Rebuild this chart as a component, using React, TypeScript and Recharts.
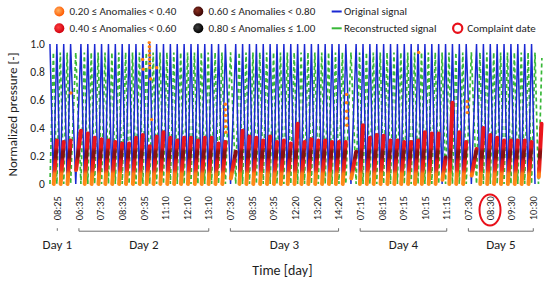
import React from 'react';
import { ComposedChart, Line, Scatter, XAxis, YAxis } from 'recharts';

// per pressure cycle: [base, peak] of the anomaly-scored segment, read per day
const day1Strokes = [[0, 0.31], [0, 0.3], [0, 0.31]];
const day2Strokes = [
  [0.1, 0.38], [0, 0.36], [0, 0.33], [0, 0.32], [0, 0.31], [0, 0.3], [0, 0.29], [0, 0.29],
  [0, 0.33], [0, 0.35], [0, 0.27], [0, 0.34], [0, 0.37], [0, 0.33], [0, 0.31], [0, 0.33],
  [0, 0.33], [0, 0.31], [0, 0.33], [0, 0.33], [0, 0.29], [0, 0.3],
];
const day3Strokes = [
  [0.04, 0.23], [0, 0.38], [0, 0.34], [0, 0.33], [0, 0.31], [0, 0.34], [0, 0.3], [0, 0.31],
  [0, 0.29], [0, 0.43], [0, 0.3], [0, 0.32], [0, 0.31], [0, 0.31], [0, 0.3], [0, 0.3], [0, 0.3],
];
const day4Strokes = [
  [0.04, 0.23], [0, 0.42], [0, 0.33], [0, 0.35], [0, 0.345], [0, 0.31], [0, 0.31], [0, 0.3],
  [0, 0.3], [0, 0.31], [0, 0.37], [0, 0.36], [0, 0.36], [0.03, 0.19], [0, 0.58], [0, 0.37], [0, 0.3],
];
const day5Strokes = [[0.06, 0.25], [0, 0.4], [0, 0.35], [0, 0.33], [0, 0.31], [0, 0.31], [0, 0.31], [0, 0.31], [0, 0.3]];
const tailStroke = [0.05, 0.43];

const ORIG_PEAK = 1.0;
const RECON_PEAK = 0.94;
const RECON_TAIL = 0.9;

// isolated orange points (cycle units, value)
const outlierX = [3.05, 13.47, 13.56, 14.43, 14.45, 14.46, 14.47, 14.48, 14.5, 14.52, 14.64, 14.78, 15.51,
  25.5, 25.5, 25.52, 25.55, 25.55, 25.57, 43.1, 43.1, 43.12, 43.14, 43.15, 53.59, 60.65, 60.66, 60.66];
const outlierY = [0.65, 0.89, 0.82, 1.01, 0.98, 0.95, 0.92, 0.89, 0.86, 0.83, 0.75, 0.46, 0.83,
  0.57, 0.53, 0.49, 0.45, 0.41, 0.37, 0.64, 0.58, 0.52, 0.47, 0.42, 0.94, 0.59, 0.55, 0.51];

const timeLabels = ['08:25', '06:35', '07:35', '08:35', '09:35', '11:10', '12:10', '13:10',
  '07:35', '08:35', '09:35', '12:20', '13:20', '14:20',
  '07:15', '08:15', '09:15', '10:15', '11:15',
  '07:30', '08:30', '09:30', '10:30'];
const dayNames = ['Day 1', 'Day 2', 'Day 3', 'Day 4', 'Day 5'];
const labelsPerDay = [1, 7, 6, 5, 4];
const complaintIndex = 20;

const FONT = 'Carlito, Calibri, Lato, "Noto Sans", sans-serif';
const TXT = '#1e1e1e';
const BLUE = '#1a28d2';
const GREEN = '#38b838';

const W = 550;
const H = 283;
const M_TOP = 41.2;
const M_RIGHT = 3.3;
const Y_W = 47.9;
const PLOT_H = 148.4;
const LBL_H = 38;
const PLOT_W = W - Y_W - M_RIGHT;
const X_DOMAIN: [number, number] = [-0.3, 72.2];
const LABEL_DOMAIN: [number, number] = [-0.4345, 22.62];
const LABEL_PX = PLOT_W / (LABEL_DOMAIN[1] - LABEL_DOMAIN[0]);

// build series tables
type Pt = { x: number; v: number | null };
const original: Pt[] = [{ x: 0, v: ORIG_PEAK }];
const recon: Pt[] = [{ x: 0, v: 0 }];
const strokes: Pt[] = [];
let peak = 0;
[day1Strokes, day2Strokes, day3Strokes, day4Strokes, day5Strokes].forEach((day, d) => {
  day.forEach(([base, top], i) => {
    const step = d > 0 && i === 0 ? 1.5 : 1;
    const trough = peak + step / 2;
    const next = peak + step;
    original.push({ x: trough, v: 0 }, { x: next, v: ORIG_PEAK });
    recon.push({ x: trough, v: RECON_PEAK }, { x: next, v: 0 });
    strokes.push({ x: trough + 0.05, v: base }, { x: next, v: top }, { x: next + 0.01, v: null });
    peak = next;
  });
});
original.push({ x: peak + 0.5, v: 0 });
recon.push({ x: peak + 0.5, v: RECON_PEAK }, { x: peak + 1, v: 0 }, { x: peak + 1.5, v: RECON_TAIL });
strokes.push({ x: peak + 1.05, v: tailStroke[0] }, { x: peak + 1.45, v: tailStroke[1] });

const outliers = outlierX.map((x, i) => ({ x, v: outlierY[i] }));

const strokeVals = strokes.filter((p) => p.v !== null).map((p) => p.v as number);
const sTop = Math.max(...strokeVals);
const sBot = Math.min(...strokeVals);
const off = (v: number) => (sTop - v) / (sTop - sBot);

const dayStarts = labelsPerDay.map((_, d) => labelsPerDay.slice(0, d).reduce((a, b) => a + b, 0));
const dayCenters = labelsPerDay.map((n, d) => dayStarts[d] + (n - 1) / 2);
// empty rows so the label axes get a domain
const labelRows = timeLabels.map((_, i) => ({ x: i, v: null }));
const dayRows = dayCenters.map((x) => ({ x, v: null }));

function TimeTick(props: any) {
  const { x, y, payload } = props;
  const i = payload.value;
  return (
    <g>
      <text transform={`translate(${x},${y + 6.5}) rotate(-90)`} textAnchor="end" dy="0.35em"
        fontSize={10.5} fontFamily={FONT} fill={TXT}>{timeLabels[i]}</text>
      {i === complaintIndex && (
        <ellipse cx={x} cy={y + 20.4} rx={10.5} ry={15.5} fill="none" stroke="#e8101a" strokeWidth={2} />
      )}
    </g>
  );
}

function DayTick(props: any) {
  const { x, y, payload } = props;
  const d = dayCenters.indexOf(payload.value);
  if (d < 0) return null;
  const half = ((labelsPerDay[d] - 1) / 2) * LABEL_PX;
  return (
    <g>
      {half > 0 ? (
        <path d={`M${x - half},${y + 0.6} V${y + 3.6} H${x + half} V${y + 0.6}`} fill="none" stroke="#707070" strokeWidth={1} />
      ) : (
        <line x1={x} x2={x} y1={y + 0.6} y2={y + 3.2} stroke="#707070" strokeWidth={1} />
      )}
      <text x={x} y={y + 21.5} textAnchor="middle" fontSize={13} fontFamily={FONT} fill={TXT}>{dayNames[d]}</text>
    </g>
  );
}

function Legend() {
  const dot = (cx: number, cy: number, id: string) => <circle cx={cx} cy={cy} r={5} fill={`url(#${id})`} />;
  const t = (x: number, y: number, s: string) => (
    <text x={x} y={y} dy="0.35em" fontSize={11} fontFamily={FONT} fill={TXT}>{s}</text>
  );
  return (
    <svg width={W} height={40} style={{ position: 'absolute', left: 0, top: 0 }}>
      <defs>
        <radialGradient id="lgO" cx="0.4" cy="0.4" r="0.6"><stop offset="0" stopColor="#ffb060" /><stop offset="1" stopColor="#ff5a00" /></radialGradient>
        <radialGradient id="lgR" cx="0.4" cy="0.4" r="0.6"><stop offset="0" stopColor="#ff4040" /><stop offset="1" stopColor="#d0000e" /></radialGradient>
        <radialGradient id="lgD" cx="0.4" cy="0.4" r="0.6"><stop offset="0" stopColor="#8a3020" /><stop offset="1" stopColor="#3a0505" /></radialGradient>
        <radialGradient id="lgK" cx="0.4" cy="0.4" r="0.6"><stop offset="0" stopColor="#404040" /><stop offset="1" stopColor="#000000" /></radialGradient>
      </defs>
      {dot(59.3, 11.5, 'lgO')}
      {t(69.5, 11.5, '0.20 ≤ Anomalies < 0.40')}
      {dot(59.3, 28.3, 'lgR')}
      {t(69.5, 28.3, '0.40 ≤ Anomalies < 0.60')}
      {dot(198.3, 11.5, 'lgD')}
      {t(208.5, 11.5, '0.60 ≤ Anomalies < 0.80')}
      {dot(198.3, 28.3, 'lgK')}
      {t(208.5, 28.3, '0.80 ≤ Anomalies ≤ 1.00')}
      <line x1={331.7} x2={341.7} y1={11.5} y2={11.5} stroke={BLUE} strokeWidth={2} />
      {t(344, 11.5, 'Original signal')}
      <line x1={331.7} x2={341.7} y1={28.3} y2={28.3} stroke={GREEN} strokeWidth={2} />
      {t(344, 28.3, 'Reconstructed signal')}
      <circle cx={457.7} cy={28.3} r={4.6} fill="none" stroke="#e8101a" strokeWidth={2.2} />
      {t(467.3, 28.3, 'Complaint date')}
    </svg>
  );
}

export default function App() {
  return (
    <div style={{ position: 'absolute', left: 0, top: 0, width: W, height: H, background: '#fff' }}>
      <ComposedChart width={W} height={H} margin={{ top: M_TOP, right: M_RIGHT, bottom: 0, left: 0 }}>
        <defs>
          <linearGradient id="anomaly" x1="0" y1="0" x2="0" y2="1">
            <stop offset={0} stopColor="#ea161c" />
            <stop offset={off(0.26)} stopColor="#ea161c" />
            <stop offset={off(0.235)} stopColor="#8c1010" />
            <stop offset={off(0.19)} stopColor="#861010" />
            <stop offset={off(0.165)} stopColor="#e41419" />
            <stop offset={off(0.1)} stopColor="#f0301a" />
            <stop offset={off(0.075)} stopColor="#ff7c14" />
            <stop offset={1} stopColor="#ff8a1a" />
          </linearGradient>
        </defs>
        <XAxis xAxisId="t" type="number" dataKey="x" domain={X_DOMAIN} allowDataOverflow hide />
        <XAxis xAxisId="axA" type="number" dataKey="x" domain={LABEL_DOMAIN} allowDataOverflow
          ticks={timeLabels.map((_, i) => i)} interval={0} tick={<TimeTick />}
          axisLine={false} tickLine={false} tickSize={0} tickMargin={0} height={LBL_H} />
        <XAxis xAxisId="axB" type="number" dataKey="x" domain={LABEL_DOMAIN} allowDataOverflow
          ticks={dayCenters} interval={0} tick={<DayTick />}
          axisLine={false} tickLine={false} tickSize={0} tickMargin={0} height={H - M_TOP - PLOT_H - LBL_H}
          label={{
            content: () => (
              <text x={Y_W + 234.5} y={275} textAnchor="middle" fontSize={14} fontFamily={FONT} fill={TXT}>Time [day]</text>
            ),
          }} />
        <YAxis type="number" dataKey="v" domain={[-0.04, 1.02]} allowDataOverflow width={Y_W}
          ticks={[0, 0.2, 0.4, 0.6, 0.8, 1.0]} tickFormatter={(v: number) => (v === 0 ? '0' : v.toFixed(1))}
          axisLine={false} tickLine={false} tickSize={0} tickMargin={3}
          tick={{ fontSize: 11.5, fontFamily: FONT, fill: TXT }}
          label={{
            content: () => (
              <text transform="translate(12.5,114.5) rotate(-90)" textAnchor="middle" dy="0.35em" fontSize={13} fontFamily={FONT} fill={TXT}>Normalized pressure [-]</text>
            ),
          }} />
        <Line xAxisId="axB" data={dayRows} dataKey="v" stroke="none" dot={false} activeDot={false} isAnimationActive={false} />
        <Line xAxisId="axA" data={labelRows} dataKey="v" stroke="none" dot={false} activeDot={false} isAnimationActive={false} />
        <Line xAxisId="t" data={recon} dataKey="v" type="linear" stroke={GREEN} strokeWidth={1.7} strokeDasharray="4 3" dot={false} activeDot={false} isAnimationActive={false} />
        <Line xAxisId="t" data={original} dataKey="v" type="linear" stroke={BLUE} strokeWidth={1.5} dot={false} activeDot={false} isAnimationActive={false} />
        <Line xAxisId="t" data={strokes} dataKey="v" type="linear" stroke="url(#anomaly)" strokeWidth={4} strokeLinecap="round" connectNulls={false} dot={false} activeDot={false} isAnimationActive={false} />
        <Scatter xAxisId="t" data={outliers} dataKey="v" isAnimationActive={false}
          shape={(p: any) => <circle cx={p.cx} cy={p.cy} r={1.7} fill="#ff7f0e" />} />
      </ComposedChart>
      <Legend />
    </div>
  );
}
